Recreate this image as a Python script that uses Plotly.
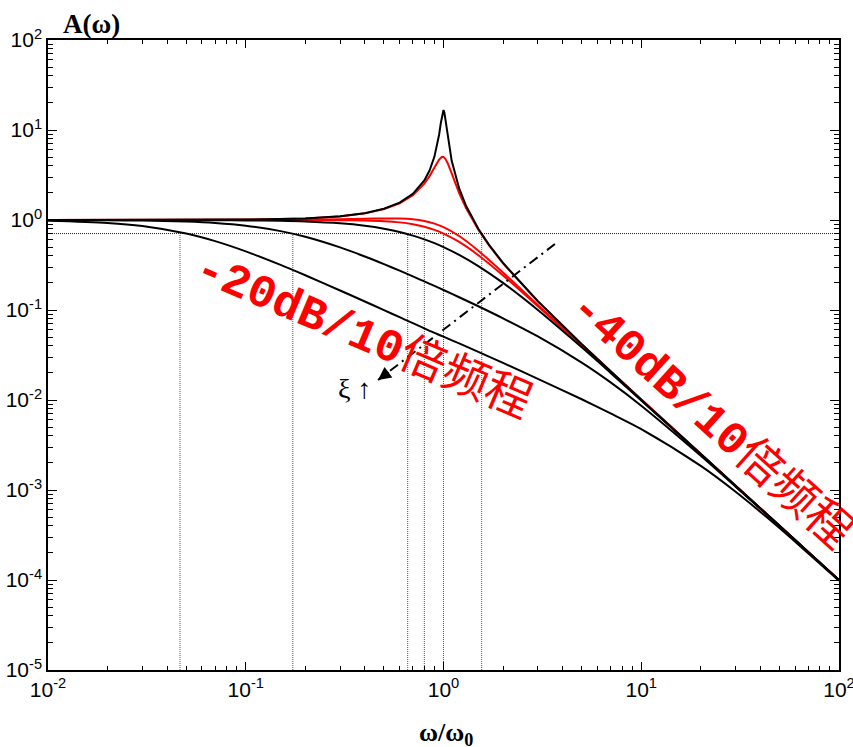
import math
import plotly.graph_objects as go

# ---------------- data ----------------
u_main = [0.01, 0.02, 0.03, 0.05, 0.07, 0.1, 0.15, 0.2, 0.3, 0.4, 0.5, 0.6, 0.7, 0.8, 0.9,
          1.0, 1.2, 1.5, 2, 3, 5, 7, 10, 20, 30, 50, 70, 100]

A_xi10 = [0.9807, 0.9288, 0.8581, 0.708, 0.5822, 0.4481, 0.3169, 0.2431, 0.1648, 0.1243, 0.0997,
          0.0832, 0.0714, 0.0625, 0.0556, 0.0505, 0.0425, 0.0342, 0.0258, 0.0172, 0.0102, 0.0071,
          0.00475, 0.00185, 0.000955, 0.000378, 0.000197, 0.0000981]
A_xi3 = [0.9983, 0.9933, 0.985, 0.960, 0.9258, 0.8638, 0.7526, 0.6507, 0.4958, 0.3933, 0.3234,
         0.2735, 0.2364, 0.2078, 0.1851, 0.1667, 0.1386, 0.1101, 0.0808, 0.0508, 0.0260, 0.01568,
         0.00864, 0.0024, 0.00109, 0.000397, 0.000203, 0.0000998]
A_xi1 = [0.9999, 0.9996, 0.9991, 0.9975, 0.9951, 0.9901, 0.978, 0.9615, 0.9174, 0.8621, 0.8,
         0.7353, 0.6711, 0.6098, 0.5525, 0.5, 0.4098, 0.3077, 0.2, 0.1, 0.03846, 0.02, 0.0099,
         0.002494, 0.00111, 0.0004, 0.000204, 0.0001]
A_xi0707 = [1.0, 1.0, 1.0, 1.0, 1.0, 1.0, 0.9997, 0.9992, 0.996, 0.9875, 0.9701, 0.9409, 0.898,
            0.8423, 0.7771, 0.7071, 0.5704, 0.4061, 0.2425, 0.1104, 0.03997, 0.0204, 0.01, 0.0025,
            0.001111, 0.0004, 0.000204, 0.0001]
A_xi06 = [1.0, 1.0001, 1.0003, 1.0007, 1.0014, 1.0028, 1.0061, 1.0106, 1.0218, 1.0336, 1.0412,
          1.0381, 1.0176, 0.9753, 0.9119, 0.8333, 0.6641, 0.4563, 0.2603, 0.114, 0.0404, 0.0205,
          0.01003, 0.0025, 0.001112, 0.0004, 0.000204, 0.0001]

u_xi003 = [0.01, 0.1, 0.2, 0.3, 0.4, 0.5, 0.6, 0.7, 0.8, 0.85, 0.9, 0.95, 0.97, 0.99, 1.0, 1.01,
           1.03, 1.05, 1.1, 1.2, 1.3, 1.5, 1.7, 2, 3, 5, 7, 10, 20, 30, 50, 70, 100]
A_xi003 = [1.0, 1.01, 1.042, 1.099, 1.19, 1.333, 1.5625, 1.954, 2.753, 3.544, 5.063, 8.854, 12.06,
           15.96, 16.67, 15.66, 11.53, 8.31, 4.543, 2.243, 1.44, 0.798, 0.529, 0.333, 0.125,
           0.04167, 0.02083, 0.0101, 0.002506, 0.001112, 0.0004, 0.000204, 0.0001]

u_xi01 = [0.01, 0.1, 0.2, 0.3, 0.4, 0.5, 0.6, 0.7, 0.8, 0.85, 0.9, 0.95, 0.98, 1.0, 1.02, 1.05,
          1.1, 1.2, 1.3, 1.5, 1.7, 2, 3, 5, 7, 10, 20, 30, 50, 70, 100]
A_xi01 = [1.0, 1.0101, 1.0408, 1.0965, 1.1851, 1.3217, 1.5357, 1.8908, 2.538, 3.073, 3.821, 4.683,
          5.001, 5.0, 4.809, 4.279, 3.288, 1.995, 1.356, 0.778, 0.5208, 0.3304, 0.1247, 0.04163,
          0.02082, 0.0101, 0.002506, 0.001112, 0.0004, 0.000204, 0.0001]

bandwidth_u = [0.0465, 0.173, 0.659, 0.80, 1.0, 1.56]
level_707 = 0.707

arrow_start = (3.66, 0.541)
arrow_tip = (0.4665, 0.01668)

x_tickvals = [0.01, 0.1, 1, 10, 100]
x_ticktext = ['10<sup>-2</sup>', '10<sup>-1</sup>', '10<sup>0</sup>', '10<sup>1</sup>', '10<sup>2</sup>']
y_tickvals = [1e-5, 1e-4, 1e-3, 1e-2, 1e-1, 1, 10, 100]
y_ticktext = ['10<sup>-5</sup>', '10<sup>-4</sup>', '10<sup>-3</sup>', '10<sup>-2</sup>',
              '10<sup>-1</sup>', '10<sup>0</sup>', '10<sup>1</sup>', '10<sup>2</sup>']

# ---------------- figure ----------------
fig = go.Figure()

# reference lines (0.707 level and bandwidth verticals)
fig.add_trace(go.Scatter(x=[0.01, 100], y=[level_707, level_707], mode='lines',
                         line=dict(color='#222222', width=1, dash='1px,1px'), hoverinfo='skip'))
vx, vy = [], []
for b in bandwidth_u:
    vx += [b, b, None]
    vy += [1e-5, level_707, None]
fig.add_trace(go.Scatter(x=vx, y=vy, mode='lines',
                         line=dict(color='#555555', width=1, dash='1px,1px'), hoverinfo='skip'))

red = '#FF0000'
fig.add_trace(go.Scatter(x=u_xi01, y=A_xi01, mode='lines', line=dict(color=red, width=2)))
for a in [A_xi06, A_xi0707]:
    fig.add_trace(go.Scatter(x=u_main, y=a, mode='lines',
                             line=dict(color=red, width=2, shape='spline', smoothing=0.8)))
for a in [A_xi1, A_xi3, A_xi10]:
    fig.add_trace(go.Scatter(x=u_main, y=a, mode='lines',
                             line=dict(color='black', width=2, shape='spline', smoothing=0.8)))
fig.add_trace(go.Scatter(x=u_xi003, y=A_xi003, mode='lines', line=dict(color='black', width=2)))

# dash-dot arrow showing xi increasing
fig.add_trace(go.Scatter(x=[arrow_start[0], arrow_tip[0]], y=[arrow_start[1], arrow_tip[1]], mode='lines',
                         line=dict(color='black', width=2, dash='10px,5px,2px,5px'), hoverinfo='skip'))

annotations = [
    dict(x=math.log10(arrow_tip[0]), y=math.log10(arrow_tip[1]), xref='x', yref='y',
         ax=12, ay=-9, showarrow=True, arrowhead=2, arrowsize=1.3, arrowwidth=2,
         arrowcolor='black', text=''),
    dict(x=0.388, y=0.4476, xref='paper', yref='paper', text='ξ ↑', showarrow=False,
         xanchor='center', yanchor='middle',
         font=dict(family='Liberation Serif, Times New Roman', size=28, color='black')),
    dict(x=0.4008, y=0.5381, xref='paper', yref='paper', showarrow=False, textangle=23,
         xanchor='center', yanchor='middle',
         text="<b>-20dB/10</b><span style=\"font-family:'Noto Sans CJK SC'\">倍频程</span>",
         font=dict(family='Liberation Mono, Courier New', size=46, color=red)),
    dict(x=0.8432, y=0.4017, xref='paper', yref='paper', showarrow=False, textangle=42,
         xanchor='center', yanchor='middle',
         text="<b>-40dB/10</b><span style=\"font-family:'Noto Sans CJK SC'\">倍频程</span>",
         font=dict(family='Liberation Mono, Courier New', size=46, color=red)),
    dict(x=0.0556, y=1.0254, xref='paper', yref='paper', showarrow=False, text='<b>A(ω)</b>',
         xanchor='center', yanchor='middle',
         font=dict(family='Liberation Serif, Times New Roman', size=27, color='black')),
    dict(x=0.503, y=-0.1016, xref='paper', yref='paper', showarrow=False,
         text='<b>ω/ω<sub>0</sub></b>', xanchor='center', yanchor='middle',
         font=dict(family='Liberation Serif, Times New Roman', size=26, color='black')),
]

x_minor = [m * 10 ** e for e in range(-2, 2) for m in range(2, 10)]
y_minor = [m * 10 ** e for e in range(-5, 2) for m in range(2, 10)]

axis_common = dict(type='log', ticks='inside', tickcolor='black', tickwidth=1, showline=True,
                   linecolor='black', linewidth=1.5, mirror='ticks', showgrid=False, zeroline=False,
                   automargin=False, ticklabeloverflow='allow',
                   tickfont=dict(family='Liberation Sans, Arial', size=21, color='black'))

fig.update_layout(
    width=853, height=747,
    margin=dict(l=48, r=14, t=40, b=77, autoexpand=False),
    paper_bgcolor='white', plot_bgcolor='white', showlegend=False,
    xaxis=dict(range=[-2, 2], tickmode='array', tickvals=x_tickvals, ticktext=x_ticktext, ticklen=8,
               minor=dict(tickmode='array', tickvals=x_minor, ticks='inside', ticklen=4,
                          tickcolor='black', showgrid=False),
               **axis_common),
    yaxis=dict(range=[-5, 2], tickmode='array', tickvals=y_tickvals, ticktext=y_ticktext, ticklen=9,
               minor=dict(tickmode='array', tickvals=y_minor, ticks='inside', ticklen=5,
                          tickcolor='black', showgrid=False),
               **axis_common),
    annotations=annotations,
)

fig.write_html('out.html', config={'displayModeBar': False},
               post_script="document.body.style.margin='0px';")
